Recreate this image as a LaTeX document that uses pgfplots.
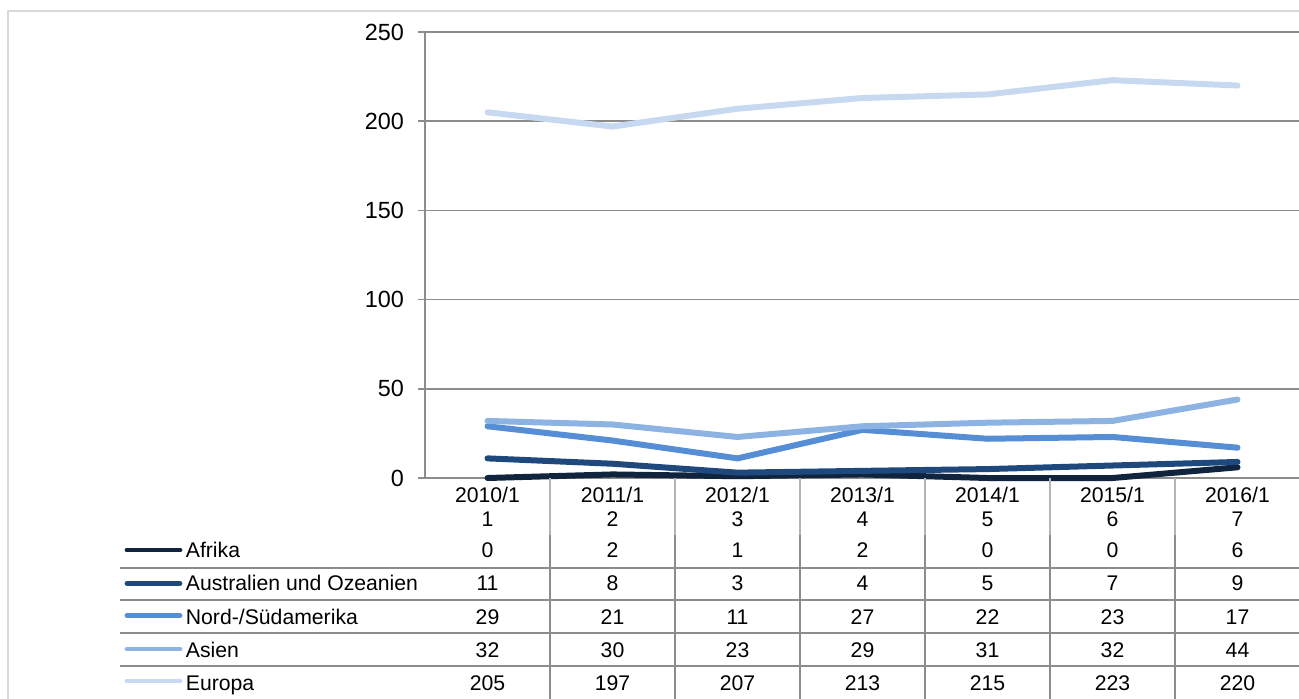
\documentclass[border=0pt]{standalone}
\usepackage{fontspec}
\setmainfont{Liberation Sans}
\usepackage{pgfplots}
\usepackage{pgfplotstable}
\pgfplotsset{compat=1.18}

\definecolor{cAfrika}{HTML}{10243E}
\definecolor{cAustralien}{HTML}{1F497D}
\definecolor{cAmerika}{HTML}{558ED5}
\definecolor{cAsien}{HTML}{8DB3E2}
\definecolor{cEuropa}{HTML}{C6D9F1}
\definecolor{gridgray}{HTML}{8C8C8C}
\definecolor{lightrule}{HTML}{B4B4B4}
\definecolor{framegray}{HTML}{D9D9D9}

% Studierende nach Herkunftsregion, Wintersemester 2010/11 bis 2016/17
\pgfplotstableread{
x Afrika Australien Amerika Asien Europa
0 0 11 29 32 205
1 2 8 21 30 197
2 1 3 11 23 207
3 2 4 27 29 213
4 0 5 22 31 215
5 0 7 23 32 223
6 6 9 17 44 220
}\datatable

\newcommand{\chartfont}{\fontsize{10.6}{12}\selectfont}
\newcommand{\tickfont}{\fontsize{11.7}{13}\selectfont}

\begin{document}
\begin{tikzpicture}
\clip (0,0) rectangle (649.5pt,349pt);

\begin{axis}[
  at={(212.5pt,110pt)}, anchor=south west,
  scale only axis, width=437.5pt, height=223pt,
  xmin=-0.5, xmax=6.5, ymin=0, ymax=250,
  xtick=\empty,
  ytick={0,50,...,250},
  ytick pos=left,
  tick align=outside,
  major tick length=3.5pt,
  tick style={gridgray, line width=0.75pt},
  ymajorgrids,
  grid style={gridgray, line width=0.75pt},
  axis line style={draw=none},
  clip=false,
  /pgf/number format/assume math mode=true,
  yticklabel style={font=\tickfont, xshift=-3.5pt},
  every axis plot/.append style={line width=3pt, line cap=round, line join=round, no markers},
]
\draw[gridgray, line width=0.75pt] (axis cs:-0.5,0) -- (axis cs:-0.5,250);
\addplot[cAfrika]     table[x=x, y=Afrika]     {\datatable};
\addplot[cAustralien] table[x=x, y=Australien] {\datatable};
\addplot[cAmerika]    table[x=x, y=Amerika]    {\datatable};
\addplot[cAsien]      table[x=x, y=Asien]      {\datatable};
\addplot[cEuropa]     table[x=x, y=Europa]     {\datatable};
\end{axis}

% data table below the plot, in pixel-like units measured from the top left
\begin{scope}[x=0.5pt, y=-0.5pt, shift={(0pt,349pt)}, font=\chartfont]
  % outer chart frame
  \draw[framegray, line width=1pt] (8,720) -- (8,11) -- (1320,11);
  % column rules
  \foreach \xb in {550,675,800,925,1050,1175} {
    \draw[lightrule, line width=0.75pt] (\xb,478) -- (\xb,535);
    \draw[gridgray, line width=1pt] (\xb,535) -- (\xb,705);
  }
  % row rules
  \foreach \yb in {567.5,600,633,666} {
    \draw[gridgray, line width=1pt] (120,\yb) -- (1320,\yb);
  }
  % column headers
  \foreach \i/\yr/\last in {0/2010/1,1/2011/2,2/2012/3,3/2013/4,4/2014/5,5/2015/6,6/2016/7} {
    \node[anchor=base, inner sep=0pt] at ({487.5+125*\i},502) {\yr/1};
    \node[anchor=base, inner sep=0pt] at ({487.5+125*\i},526.5) {\last};
  }
  % legend keys and values
  \foreach \col/\name/\clr/\yc/\yb in {
      Afrika/{Afrika}/cAfrika/550/557,
      Australien/{Australien und Ozeanien}/cAustralien/583.3/590.5,
      Amerika/{Nord-/Südamerika}/cAmerika/615.7/624,
      Asien/{Asien}/cAsien/649/657,
      Europa/{Europa}/cEuropa/681/690} {
    \draw[\clr, line width=2.4pt, line cap=round] (127,\yc) -- (180,\yc);
    \node[anchor=base west, inner sep=0pt] at (185.5,\yb) {\name};
    \foreach \i in {0,...,6} {
      \pgfplotstablegetelem{\i}{\col}\of\datatable
      \node[anchor=base, inner sep=0pt] at ({487.5+125*\i},\yb) {\pgfplotsretval};
    }
  }
\end{scope}
\end{tikzpicture}
\end{document}
